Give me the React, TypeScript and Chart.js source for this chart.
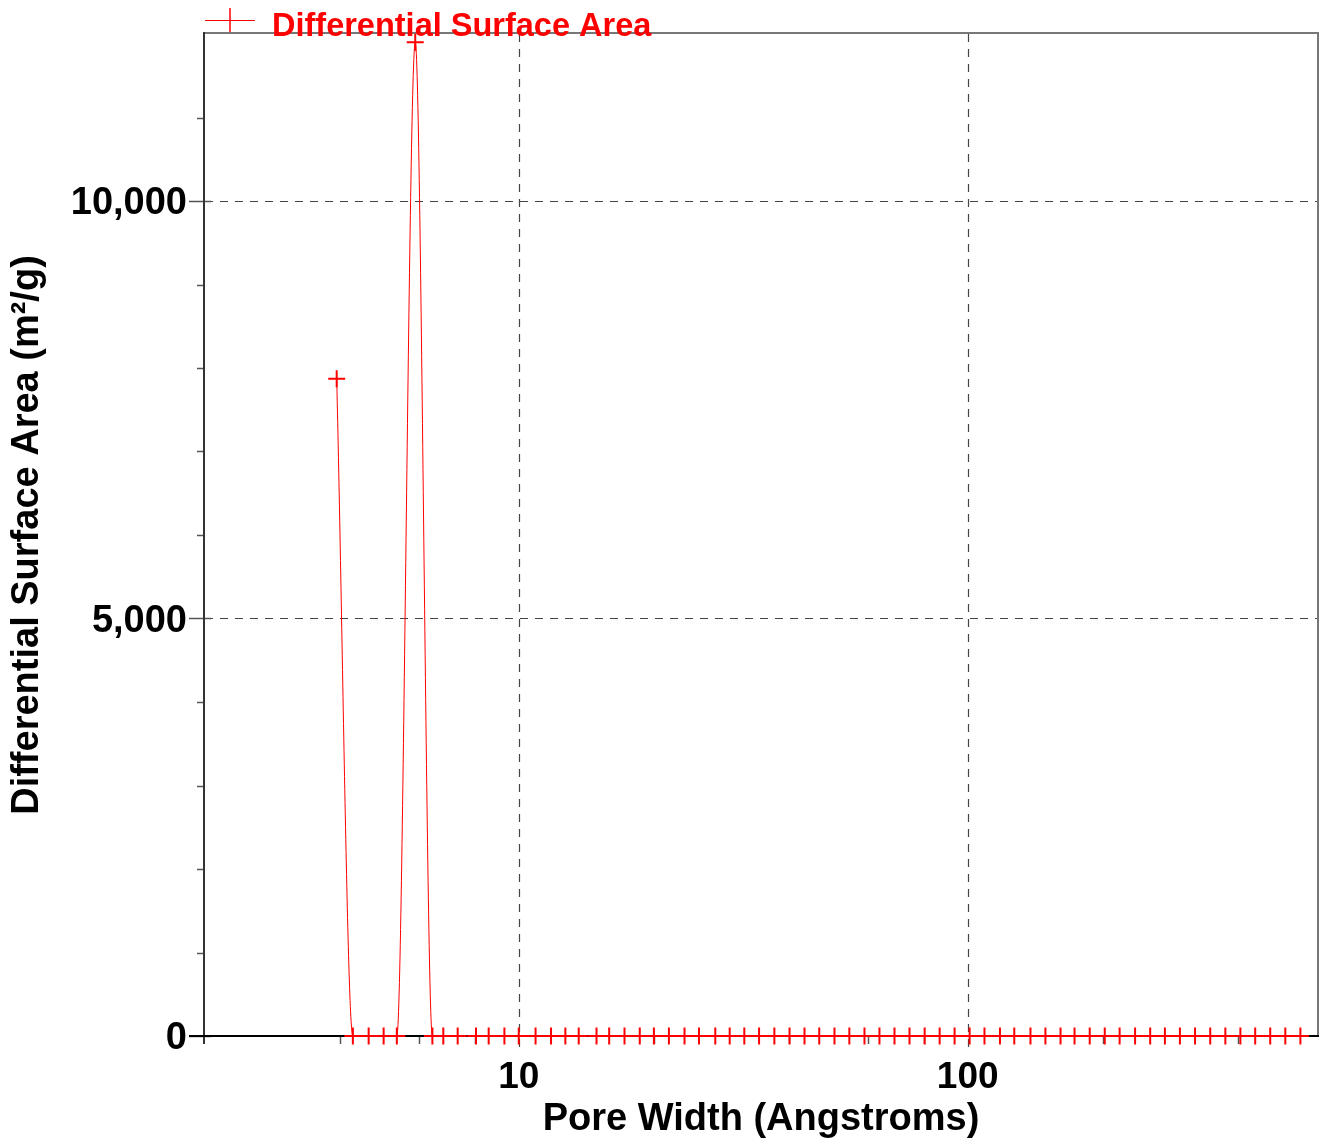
import React, { useEffect, useRef } from "react";
import { Chart, registerables } from "chart.js";

Chart.register(...registerables);

// ---- data ----
const PORE_WIDTH = [
  3.93, 4.27, 4.63, 5.0, 5.35, 5.88, 6.42, 6.79, 7.31, 8.03,
  8.57, 9.29, 10.0, 10.9, 11.8, 12.7, 13.6, 14.9, 15.9, 17.2,
  18.6, 20.0, 21.6, 23.4, 25.2, 27.4, 29.5, 31.8, 34.3, 37.1,
  40.1, 43.3, 46.7, 50.5, 54.5, 58.9, 63.6, 68.7, 74.2, 80.2,
  86.6, 93.5, 101, 109, 118, 127, 138, 149, 161, 173,
  187, 202, 218, 236, 255, 275, 297, 321, 347, 375,
  405, 437, 472, 510, 551,
];
const SURFACE_AREA = [
  7870, 0, 0, 0, 0, 11900, 0, 0, 0, 0,
  0, 0, 0, 0, 0, 0, 0, 0, 0, 0,
  0, 0, 0, 0, 0, 0, 0, 0, 0, 0,
  0, 0, 0, 0, 0, 0, 0, 0, 0, 0,
  0, 0, 0, 0, 0, 0, 0, 0, 0, 0,
  0, 0, 0, 0, 0, 0, 0, 0, 0, 0,
  0, 0, 0, 0, 0,
];

const SERIES_LABEL = "Differential Surface Area";
const X_TITLE = "Pore Width (Angstroms)";
const Y_TITLE = "Differential Surface Area (m²/g)";

const X_MIN = 2;
const X_MAX = 600;
const Y_MIN = 0;
const Y_MAX = 12000;
const X_MAJOR_TICKS = [10, 100];
const X_MINOR_TICKS = [4, 6, 8, 20, 40, 60, 80, 200, 400];
const Y_MAJOR_TICKS = [0, 5000, 10000];
const Y_MINOR_TICKS = [1000, 2000, 3000, 4000, 6000, 7000, 8000, 9000, 11000];

const RED = "#ff0000";
const FONT = "'Liberation Sans', Arial, Helvetica, sans-serif";

const zeroPadding = (s: any) => {
  s.paddingTop = 0;
  s.paddingBottom = 0;
  s.paddingLeft = 0;
  s.paddingRight = 0;
};

const framePlugin = {
  id: "frame",
  beforeDatasetsDraw(chart: any) {
    const { ctx, chartArea: a, scales } = chart;
    const x = scales.x;
    const y = scales.y;
    ctx.save();
    // dashed grid lines
    ctx.setLineDash([8, 7]);
    ctx.strokeStyle = "#444444";
    ctx.lineWidth = 1.2;
    X_MAJOR_TICKS.forEach((v) => {
      const px = Math.round(x.getPixelForValue(v)) + 0.5;
      ctx.beginPath();
      ctx.moveTo(px, a.top);
      ctx.lineTo(px, a.bottom + 16);
      ctx.stroke();
    });
    Y_MAJOR_TICKS.forEach((v) => {
      if (v === Y_MIN) return;
      const py = Math.round(y.getPixelForValue(v)) + 0.5;
      ctx.beginPath();
      ctx.moveTo(a.left, py);
      ctx.lineTo(a.right, py);
      ctx.stroke();
    });
    ctx.setLineDash([]);
    // tick marks
    ctx.strokeStyle = "#555555";
    ctx.lineWidth = 1.5;
    X_MINOR_TICKS.forEach((v) => {
      const px = Math.round(x.getPixelForValue(v)) + 0.5;
      ctx.beginPath();
      ctx.moveTo(px, a.bottom);
      ctx.lineTo(px, a.bottom + 8);
      ctx.stroke();
    });
    Y_MINOR_TICKS.forEach((v) => {
      const py = Math.round(y.getPixelForValue(v)) + 0.5;
      ctx.beginPath();
      ctx.moveTo(a.left - 8, py);
      ctx.lineTo(a.left, py);
      ctx.stroke();
    });
    Y_MAJOR_TICKS.forEach((v) => {
      const py = Math.round(y.getPixelForValue(v)) + 0.5;
      ctx.beginPath();
      ctx.moveTo(a.left - 16, py);
      ctx.lineTo(a.left + 6, py);
      ctx.stroke();
    });
    // frame
    ctx.lineWidth = 2;
    ctx.strokeStyle = "#777777";
    ctx.beginPath();
    ctx.moveTo(a.left, a.top - 1);
    ctx.lineTo(a.right + 1, a.top - 1);
    ctx.lineTo(a.right + 1, a.bottom);
    ctx.stroke();
    ctx.strokeStyle = "#333333";
    ctx.beginPath();
    ctx.moveTo(a.left - 1, a.top - 2);
    ctx.lineTo(a.left - 1, a.bottom + 8);
    ctx.stroke();
    ctx.strokeStyle = "#000000";
    ctx.beginPath();
    ctx.moveTo(a.left - 16, a.bottom);
    ctx.lineTo(a.right + 2, a.bottom);
    ctx.stroke();
    ctx.restore();
  },
  afterDraw(chart: any) {
    const { ctx, chartArea: a } = chart;
    ctx.save();
    const ly = 20;
    const lx0 = a.left;
    const lx1 = a.left + 50;
    const cx = (lx0 + lx1) / 2;
    ctx.strokeStyle = RED;
    ctx.lineWidth = 1;
    ctx.beginPath();
    ctx.moveTo(lx0, ly + 0.5);
    ctx.lineTo(lx1, ly + 0.5);
    ctx.stroke();
    ctx.lineWidth = 1.5;
    ctx.beginPath();
    ctx.moveTo(cx, ly - 12);
    ctx.lineTo(cx, ly + 12);
    ctx.stroke();
    ctx.fillStyle = RED;
    ctx.font = `bold 32.5px ${FONT}`;
    ctx.textAlign = "left";
    ctx.textBaseline = "alphabetic";
    ctx.fillText(SERIES_LABEL, lx1 + 17, 36);
    ctx.restore();
  },
};

export default function App() {
  const canvasRef = useRef<HTMLCanvasElement | null>(null);

  useEffect(() => {
    document.body.style.margin = "0";
    const canvas = canvasRef.current;
    if (!canvas) return;
    const chart = new Chart(canvas, {
      type: "line",
      data: {
        datasets: [
          {
            label: SERIES_LABEL,
            data: PORE_WIDTH.map((w, i) => ({ x: w, y: SURFACE_AREA[i] })),
            borderColor: RED,
            backgroundColor: RED,
            borderWidth: 1,
            cubicInterpolationMode: "monotone",
            pointStyle: "cross",
            pointRadius: 8.5,
            pointBorderWidth: 2,
            pointBorderColor: RED,
            pointBackgroundColor: RED,
            fill: false,
            clip: false,
          } as any,
        ],
      },
      options: {
        animation: false,
        responsive: false,
        devicePixelRatio: 1,
        events: [],
        layout: { autoPadding: false, padding: { top: 34, right: 2, left: 0, bottom: 0 } },
        plugins: {
          legend: { display: false },
          tooltip: { enabled: false },
          title: { display: false },
        },
        scales: {
          x: {
            type: "logarithmic",
            min: X_MIN,
            max: X_MAX,
            grid: { display: false, drawTicks: false },
            border: { display: false },
            afterBuildTicks: (s: any) => {
              s.ticks = X_MAJOR_TICKS.map((v) => ({ value: v }));
            },
            afterFit: (s: any) => {
              s.height = 104;
              zeroPadding(s);
            },
            ticks: {
              autoSkip: false,
              maxRotation: 0,
              padding: 20,
              color: "#000000",
              font: { family: FONT, size: 37, weight: "bold" },
              callback: (v: any) => String(v),
            },
            title: {
              display: true,
              text: X_TITLE,
              color: "#000000",
              padding: { top: 0, bottom: 0 },
              font: { family: FONT, size: 38, weight: "bold", lineHeight: 1.1 },
            },
          },
          y: {
            type: "linear",
            min: Y_MIN,
            max: Y_MAX,
            grid: { display: false, drawTicks: false },
            border: { display: false },
            afterBuildTicks: (s: any) => {
              s.ticks = Y_MAJOR_TICKS.map((v) => ({ value: v }));
            },
            afterFit: (s: any) => {
              s.width = 205;
              zeroPadding(s);
            },
            ticks: {
              padding: 18,
              labelOffset: 3,
              color: "#000000",
              font: { family: FONT, size: 38, weight: "bold" },
              callback: (v: any) => Number(v).toLocaleString("en-US"),
            },
            title: {
              display: true,
              text: Y_TITLE,
              color: "#000000",
              padding: { top: 6, bottom: 0 },
              font: { family: FONT, size: 38, weight: "bold", lineHeight: 1.15 },
            },
          },
        },
      } as any,
      plugins: [framePlugin],
    });
    return () => chart.destroy();
  }, []);

  return (
    <div style={{ width: 1319, height: 1140 }}>
      <canvas ref={canvasRef} width={1319} height={1140} style={{ display: "block" }} />
    </div>
  );
}
